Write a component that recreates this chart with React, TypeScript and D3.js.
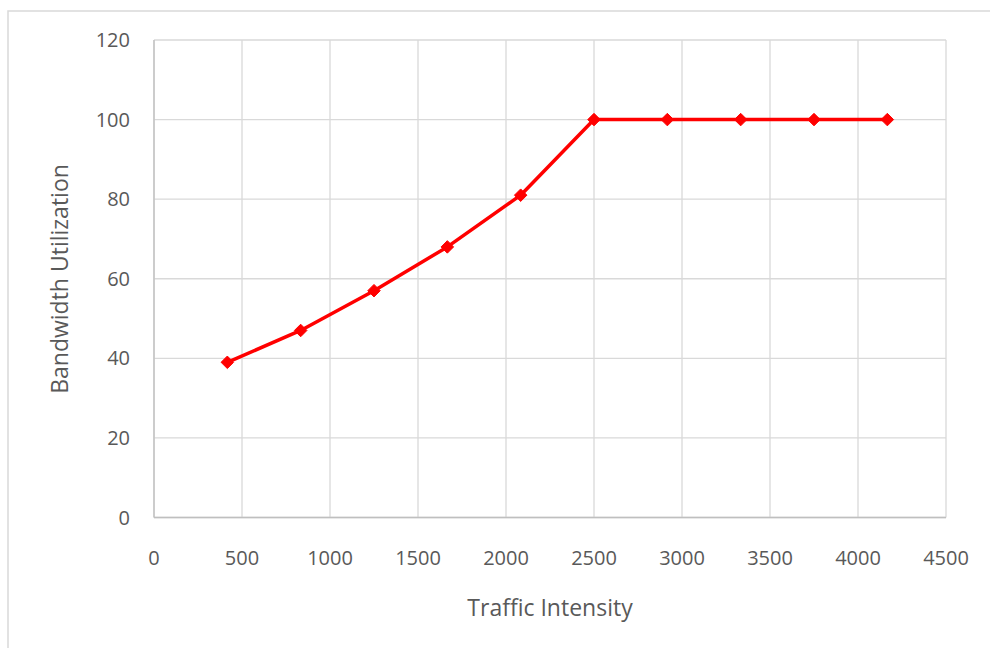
import React from "react";
import * as d3 from "d3";

const trafficIntensity = [416.7, 833.3, 1250, 1666.7, 2083.3, 2500, 2916.7, 3333.3, 3750, 4166.7];
const bandwidthUtilization = [39, 47, 57, 68, 81, 100, 100, 100, 100, 100];
const xTicks = [0, 500, 1000, 1500, 2000, 2500, 3000, 3500, 4000, 4500];
const yTicks = [0, 20, 40, 60, 80, 100, 120];

const W = 990;
const H = 648;
const font = "'Open Sans', sans-serif";

export default function App() {
  const x = d3.scaleLinear().domain([0, 4500]).range([154, 946]);
  const y = d3.scaleLinear().domain([0, 120]).range([517.5, 40]);
  const pts = trafficIntensity.map((t, i) => [x(t), y(bandwidthUtilization[i])] as [number, number]);
  const line = d3.line()(pts) || "";
  const diamond = d3.symbol().type(d3.symbolDiamond2).size(100)() || "";
  return (
    <svg width={W} height={H} style={{ position: "absolute", left: 0, top: 0, display: "block" }}>
      <rect x={0} y={0} width={W} height={H} fill="#fff" />
      <rect x={8} y={11} width={990} height={700} fill="#fff" stroke="#d9d9d9" strokeWidth={1.5} />
      {yTicks.map((t) => (
        <line key={"gy" + t} x1={154} x2={946} y1={y(t)} y2={y(t)} stroke="#d9d9d9" strokeWidth={1.3} />
      ))}
      {xTicks.map((t) => (
        <line key={"gx" + t} x1={x(t)} x2={x(t)} y1={40} y2={517.5} stroke="#d9d9d9" strokeWidth={1.3} />
      ))}
      <line x1={154} x2={946} y1={517.5} y2={517.5} stroke="#bfbfbf" strokeWidth={1.3} />
      <line x1={154} x2={154} y1={40} y2={517.5} stroke="#bfbfbf" strokeWidth={1.3} />
      {yTicks.map((t) => (
        <text key={"ty" + t} x={130} y={y(t)} dy="0.35em" textAnchor="end" fontFamily={font} fontSize={20} fill="#595959">
          {t}
        </text>
      ))}
      {xTicks.map((t) => (
        <text key={"tx" + t} x={x(t)} y={558} dy="0.35em" textAnchor="middle" fontFamily={font} fontSize={20} fill="#595959">
          {t}
        </text>
      ))}
      <text x={550} y={608} dy="0.35em" textAnchor="middle" fontFamily={font} fontSize={23} fill="#595959">
        Traffic Intensity
      </text>
      <text
        transform={`translate(60,279) rotate(-90)`}
        dy="0.35em"
        textAnchor="middle"
        fontFamily={font}
        fontSize={23}
        fill="#595959"
      >
        Bandwidth Utilization
      </text>
      <path d={line} fill="none" stroke="#ff0000" strokeWidth={3.5} strokeLinejoin="round" />
      {pts.map((p, i) => (
        <path key={"m" + i} d={diamond} transform={`translate(${p[0]},${p[1]})`} fill="#ff0000" stroke="#ff0000" strokeWidth={1} />
      ))}
    </svg>
  );
}
